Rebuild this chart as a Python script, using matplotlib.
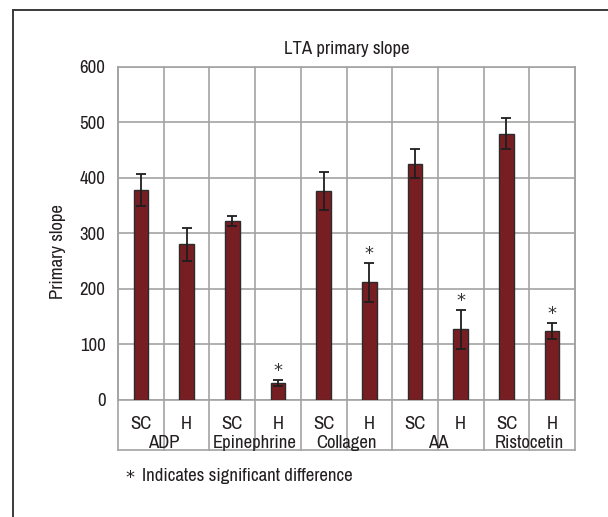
import numpy as np
import matplotlib
matplotlib.use("Agg")
import matplotlib.pyplot as plt
from matplotlib import font_manager
from matplotlib.lines import Line2D

# pick a condensed face if one is installed
fam, stretch = "Liberation Sans", "normal"
cands = []
for f in font_manager.fontManager.ttflist:
    st = str(f.stretch)
    if "Narrow" in f.name or "Condensed" in f.name:
        cands.append((0, f.name, "normal"))
    elif st in ("condensed", "semi-condensed", "extra-condensed", "ultra-condensed") or \
            (st.isdigit() and int(st) < 500):
        cands.append((1, f.name, "condensed" if not st.isdigit() else int(st)))
if cands:
    cands.sort(key=lambda c: (c[0], c[1]))
    _, fam, stretch = cands[0]
plt.rcParams['font.family'] = [fam, 'DejaVu Sans']
plt.rcParams['font.stretch'] = stretch

# ---- data ----
groups = ["ADP", "Epinephrine", "Collagen", "AA", "Ristocetin"]
subgroups = ["SC", "H"]
values = [378, 280, 322, 31, 376, 212, 425, 127, 479, 124]
errors = [28, 30, 9, 5, 34, 35, 26, 35, 28, 15]
significant = [False, False, False, True, False, True, False, True, False, True]
yticks = [0, 100, 200, 300, 400, 500, 600]
title = "LTA primary slope"
ylabel = "Primary slope"
star = "*"
footnote = "Indicates significant difference"

W, H = 608, 517
fig = plt.figure(figsize=(W / 100, H / 100), dpi=100)

fig.add_artist(Line2D([12.5 / W, 1.0], [1 - 9.5 / H, 1 - 9.5 / H], color="#3a3a3a", lw=1.4))
fig.add_artist(Line2D([12.5 / W, 12.5 / W], [1 - 9.5 / H, 0.0], color="#3a3a3a", lw=1.4))

left, right, top, bottom = 118, 575, 66.7, 400
ax = fig.add_axes([left / W, 1 - bottom / H, (right - left) / W, (bottom - top) / H])

n = len(values)
x = np.arange(n)
gridc = "#a3a3a3"
tc = "#231f20"
fs = 13.5
ax.bar(x, values, width=0.32, color="#771e23", edgecolor="#2b2b2b", linewidth=1.0, zorder=3)
ax.errorbar(x, values, yerr=errors, fmt="none", ecolor="#1e1e1e", elinewidth=1.3,
            capsize=3.6, capthick=1.3, zorder=4)

ax.set_xlim(-0.5, n - 0.5)
ax.set_ylim(0, 600)
ax.set_yticks(yticks)
ax.set_yticklabels([str(t) for t in yticks], fontsize=fs)
ax.tick_params(axis="y", length=0, pad=9, colors=tc)
ax.set_xticks([])
for t in yticks:
    ax.axhline(t, color=gridc, lw=1.2, zorder=1)
for s in ax.spines.values():
    s.set_color(gridc)
    s.set_linewidth(1.2)

ext = -(450 - bottom) / (bottom - top)
xtr = ax.get_xaxis_transform()
for b in np.arange(-0.5, n, 1.0):
    ax.plot([b, b], [ext, 1], transform=xtr, color=gridc, lw=1.2, clip_on=False, zorder=1)
ax.plot([-0.5, n - 0.5], [ext, ext], transform=xtr, color=gridc, lw=1.2, clip_on=False)

sub_y = -(424 - bottom) / (bottom - top)
grp_y = -(448 - bottom) / (bottom - top)
for i in range(n):
    ax.text(x[i], sub_y, subgroups[i % 2], transform=xtr, ha="center", va="center",
            fontsize=fs, color=tc)
for g, name in enumerate(groups):
    ax.text(2 * g + 0.5, grp_y, name, transform=xtr, ha="center", va="baseline",
            fontsize=fs, color=tc)

for i in range(n):
    if significant[i]:
        ax.annotate(star, (x[i], values[i] + errors[i]), xytext=(0, 0), textcoords="offset points",
                    ha="center", va="bottom", fontsize=13, family="DejaVu Sans", color="#333333")

fig.text((left + right) / 2 / W, 1 - 49 / H, title, ha="center", va="center",
         fontsize=fs, color=tc)
fig.text(57.5 / W, 1 - 252 / H, ylabel, rotation=90, ha="center", va="center",
         fontsize=fs, color=tc)
fig.text(125 / W, 1 - 478 / H, star, ha="left", va="center", fontsize=13,
         family="DejaVu Sans", color=tc)
fig.text(142 / W, 1 - 476 / H, footnote, ha="left", va="center", fontsize=fs, color=tc)

fig.savefig("out.png", dpi=100)
